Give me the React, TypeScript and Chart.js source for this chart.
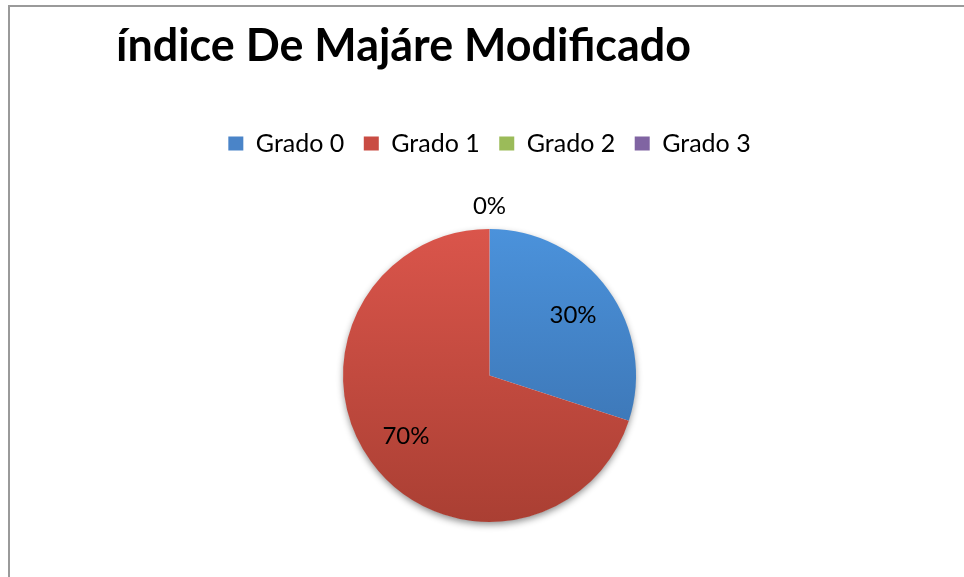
import React, { useEffect, useRef } from "react";
import { Chart, registerables } from "chart.js";

Chart.register(...registerables);

// ---- data ----
const chartTitle = "índice De Majáre Modificado";
const categories = ["Grado 0", "Grado 1", "Grado 2", "Grado 3"];
const values = [30, 70, 0, 0];

// ---- styles ----
const legendColors = ["#4a84c8", "#c94c43", "#9bbb59", "#8064a2"];
const sliceTop = ["#4b92db", "#da554b", "#a5c75f", "#8a6bb0"];
const sliceBottom = ["#376ca8", "#aa3f33", "#86a64a", "#6d5290"];
const FONT = "Lato, 'Open Sans', sans-serif";

const pieBox = (chart: any) => {
  const a = chart.chartArea;
  const cx = (a.left + a.right) / 2;
  const cy = (a.top + a.bottom) / 2;
  const r = Math.min(a.right - a.left, a.bottom - a.top) / 2;
  return { cx, cy, r };
};

const titlePlugin = {
  id: "customTitle",
  afterDraw(chart: any) {
    const ctx = chart.ctx;
    ctx.save();
    ctx.font = `bold 45px ${FONT}`;
    ctx.fillStyle = "#000";
    ctx.textAlign = "left";
    ctx.textBaseline = "alphabetic";
    ctx.fillText(chartTitle, 116, 61, 575);
    ctx.restore();
  },
};

const legendSpacer = {
  id: "legendSpacer",
  beforeInit(chart: any) {
    const legend = chart.legend;
    if (!legend) return;
    const orig = legend.fit;
    legend.fit = function () {
      orig.call(this);
      this.height += 63;
    };
  },
};

const shadowPlugin = {
  id: "pieShadow",
  beforeDatasetsDraw(chart: any) {
    const meta = chart.getDatasetMeta(0);
    const arc = meta.data[0];
    if (!arc) return;
    const { x, y, outerRadius } = arc.getProps(["x", "y", "outerRadius"], true);
    const ctx = chart.ctx;
    ctx.save();
    ctx.shadowColor = "rgba(0,0,0,0.45)";
    ctx.shadowBlur = 7;
    ctx.shadowOffsetY = 3;
    ctx.beginPath();
    ctx.arc(x, y, outerRadius - 0.5, 0, Math.PI * 2);
    ctx.fillStyle = "#ffffff";
    ctx.fill();
    ctx.restore();
  },
};

const labelPlugin = {
  id: "pieLabels",
  afterDatasetsDraw(chart: any) {
    const ds = chart.data.datasets[0];
    const total = (ds.data as number[]).reduce((s, v) => s + v, 0);
    const meta = chart.getDatasetMeta(0);
    const ctx = chart.ctx;
    const seen = new Set<string>();
    ctx.save();
    ctx.font = `24px ${FONT}`;
    ctx.fillStyle = "#000";
    ctx.textAlign = "center";
    ctx.textBaseline = "middle";
    meta.data.forEach((arc: any, i: number) => {
      const { x, y, startAngle, endAngle, outerRadius } = arc.getProps(
        ["x", "y", "startAngle", "endAngle", "outerRadius"],
        true
      );
      const v = ds.data[i] as number;
      const mid = (startAngle + endAngle) / 2;
      const dist = v === 0 ? outerRadius + 23 : outerRadius * 0.705;
      const lx = x + Math.cos(mid) * dist;
      const ly = y + Math.sin(mid) * dist;
      const text = Math.round((v / total) * 100) + "%";
      const key = `${Math.round(lx)},${Math.round(ly)},${text}`;
      if (seen.has(key)) return;
      seen.add(key);
      ctx.fillText(text, lx, ly);
    });
    ctx.restore();
  },
};

export default function App() {
  const ref = useRef<HTMLCanvasElement>(null);

  useEffect(() => {
    if (!ref.current) return;
    const chart = new Chart(ref.current, {
      type: "pie",
      data: {
        labels: categories,
        datasets: [
          {
            data: values,
            borderWidth: 0,
            backgroundColor: (c: any) => {
              const chart = c.chart;
              const i = c.dataIndex;
              if (!chart.chartArea) return sliceTop[i];
              const { cy, r } = pieBox(chart);
              const g = chart.ctx.createLinearGradient(0, cy - r, 0, cy + r);
              g.addColorStop(0, sliceTop[i]);
              g.addColorStop(1, sliceBottom[i]);
              return g;
            },
          },
        ],
      },
      options: {
        responsive: false,
        animation: false,
        devicePixelRatio: 1,
        layout: { padding: { top: 111.5, left: 15, right: 0, bottom: 55 } },
        plugins: {
          title: { display: false },
          tooltip: { enabled: false },
          legend: {
            display: true,
            position: "top",
            labels: {
              font: { family: FONT, size: 25 },
              color: "#000",
              boxWidth: 15,
              boxHeight: 14,
              padding: 19.5,
              generateLabels: () =>
                categories.map((t, i) => ({
                  text: t,
                  fillStyle: legendColors[i],
                  strokeStyle: legendColors[i],
                  lineWidth: 0,
                  hidden: false,
                  index: i,
                })),
            },
          },
        },
      },
      plugins: [legendSpacer, shadowPlugin, labelPlugin, titlePlugin],
    });
    return () => chart.destroy();
  }, []);

  return (
    <div
      style={{
        position: "absolute",
        left: 0,
        top: 0,
        width: 964,
        height: 577,
        overflow: "hidden",
        background: "#fff",
      }}
    >
      <div
        style={{
          position: "absolute",
          left: 8,
          top: 5,
          width: 960,
          height: 580,
          borderTop: "2px solid #9a9a9a",
          borderLeft: "2px solid #9a9a9a",
        }}
      />
      <canvas
        ref={ref}
        width={964}
        height={577}
        style={{ position: "absolute", left: 0, top: 0, width: 964, height: 577 }}
      />
    </div>
  );
}
